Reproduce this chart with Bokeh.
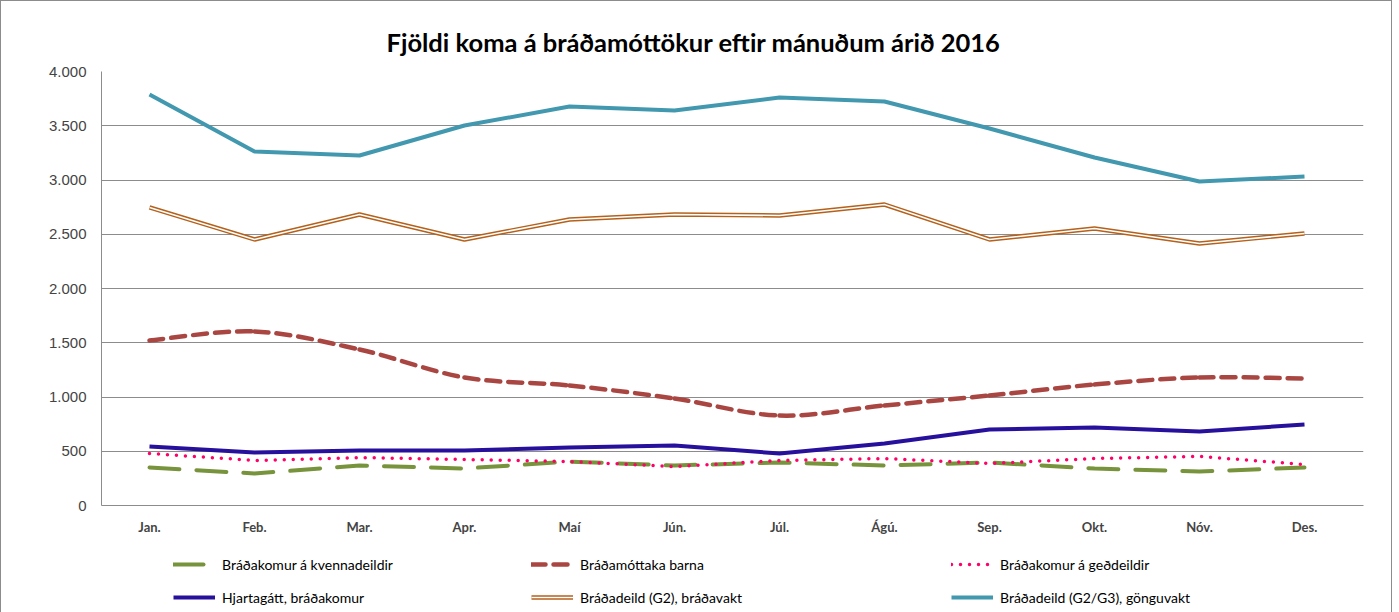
from bokeh.plotting import figure
from bokeh.layouts import column
from bokeh.models import FixedTicker, Range1d, Legend, LegendItem, Title
from bokeh.embed import file_html
from bokeh.resources import INLINE

months = ["Jan.", "Feb.", "Mar.", "Apr.", "Maí", "Jún.", "Júl.", "Ágú.", "Sep.", "Okt.", "Nóv.", "Des."]
kvenna = [350, 295, 369, 341, 405, 369, 396, 369, 396, 341, 313, 350]
barna = [1521, 1604, 1438, 1180, 1106, 986, 829, 922, 1014, 1115, 1180, 1171]
gedd = [479, 415, 442, 424, 405, 359, 415, 433, 387, 433, 452, 378]
hjarta = [544, 488, 507, 507, 535, 553, 479, 571, 700, 719, 682, 747]
g2 = [2747, 2452, 2682, 2452, 2636, 2682, 2673, 2774, 2452, 2553, 2415, 2507]
g2g3 = [3788, 3263, 3226, 3502, 3677, 3641, 3760, 3724, 3475, 3207, 2986, 3032]
series_names = ["Bráðakomur á kvennadeildir", "Bráðamóttaka barna", "Bráðakomur á geðdeildir",
                "Hjartagátt, bráðakomur", "Bráðadeild (G2), bráðavakt", "Bráðadeild (G2/G3), gönguvakt"]
y_ticks = [0, 500, 1000, 1500, 2000, 2500, 3000, 3500, 4000]
y_tick_labels = ["0", "500", "1.000", "1.500", "2.000", "2.500", "3.000", "3.500", "4.000"]

xs = list(range(len(months)))

STY = {
    "green": dict(line_color="#77933C", line_width=4, line_dash="30 17", line_cap="round"),
    "red": dict(line_color="#AA4642", line_width=4.5, line_dash="14 8", line_cap="round"),
    "pink": dict(line_color="#FF0066", line_width=3.5, line_dash="0 9", line_cap="round"),
    "navy": dict(line_color="#26109C", line_width=4),
    "brown_o": dict(line_color="#B4611C", line_width=4.5),
    "brown_i": dict(line_color="#FFFFFF", line_width=1.6),
    "teal": dict(line_color="#4198AF", line_width=4),
}

p = figure(width=1390, height=548, output_backend="svg", toolbar_location=None,
           x_range=Range1d(-0.457, len(months) - 0.438), y_range=Range1d(0, 4000),
           min_border_left=100, min_border_right=28, min_border_top=70, min_border_bottom=44)
p.outline_line_color = None

p.title = Title(text="Fjöldi koma á bráðamóttökur eftir mánuðum árið 2016", align="left", offset=285,
                text_font="Lato", text_font_size="25.5px", text_font_style="bold", text_color="#000000",
                standoff=29)

# axes
p.xaxis.ticker = FixedTicker(ticks=xs)
p.xaxis.major_label_overrides = {i: m for i, m in enumerate(months)}
p.xaxis.major_label_text_font = "Lato"
p.xaxis.major_label_text_font_style = "bold"
p.xaxis.major_label_text_font_size = "13px"
p.xaxis.major_label_standoff = 13
p.xaxis.major_tick_out = 0
p.xaxis.major_tick_in = 0
p.xaxis.major_tick_line_color = None
p.xaxis.minor_tick_line_color = None
p.xaxis.axis_line_color = "#8c8c8c"

p.yaxis.ticker = FixedTicker(ticks=y_ticks)
p.yaxis.major_label_overrides = {t: l for t, l in zip(y_ticks, y_tick_labels)}
p.yaxis.major_label_text_font = "Liberation Sans"
p.yaxis.major_label_text_font_size = "15px"
p.yaxis.major_label_standoff = 15
p.yaxis.major_tick_out = 0
p.yaxis.major_tick_in = 0
p.yaxis.major_tick_line_color = None
p.yaxis.minor_tick_line_color = None
p.yaxis.axis_line_color = "#8c8c8c"

p.xgrid.grid_line_color = None
p.ygrid.grid_line_color = "#8c8c8c"
p.ygrid.grid_line_width = 1

# series
p.line(xs, kvenna, **STY["green"])

# smoothed dashed series via bezier (Catmull-Rom control points)
n = len(barna)
x0, y0, x1, y1, cx0, cy0, cx1, cy1 = [], [], [], [], [], [], [], []
for i in range(n - 1):
    pm = i - 1 if i > 0 else i
    pp = i + 2 if i + 2 < n else i + 1
    x0.append(xs[i]); y0.append(barna[i])
    x1.append(xs[i + 1]); y1.append(barna[i + 1])
    cx0.append(xs[i] + (xs[i + 1] - xs[pm]) / 6.0)
    cy0.append(barna[i] + (barna[i + 1] - barna[pm]) / 6.0)
    cx1.append(xs[i + 1] - (xs[pp] - xs[i]) / 6.0)
    cy1.append(barna[i + 1] - (barna[pp] - barna[i]) / 6.0)
p.bezier(x0=x0, y0=y0, x1=x1, y1=y1, cx0=cx0, cy0=cy0, cx1=cx1, cy1=cy1, **STY["red"])

p.line(xs, gedd, **STY["pink"])
p.line(xs, hjarta, **STY["navy"])
p.line(xs, g2, **STY["brown_o"])
p.line(xs, g2, **STY["brown_i"])
p.line(xs, g2g3, **STY["teal"])

# legend strip below the chart
pl = figure(width=1390, height=64, output_backend="svg", toolbar_location=None,
            x_range=Range1d(0, 1), y_range=Range1d(0, 1), min_border=0)
pl.axis.visible = False
pl.grid.grid_line_color = None
pl.outline_line_color = None

nan = float("nan")
lr = {k: pl.line([nan], [nan], **v) for k, v in STY.items()}
groups = [
    ([series_names[0], series_names[3]], [[lr["green"]], [lr["navy"]]], 72),
    ([series_names[1], series_names[4]], [[lr["red"]], [lr["brown_o"], lr["brown_i"]]], 430),
    ([series_names[2], series_names[5]], [[lr["pink"]], [lr["teal"]]], 850),
]
for labels, rends, xloc in groups:
    lg = Legend(items=[LegendItem(label=l, renderers=r) for l, r in zip(labels, rends)],
                location=(xloc, 6), orientation="vertical",
                glyph_width=42, glyph_height=20, label_height=20, spacing=13,
                label_standoff=7, padding=0, margin=0, border_line_color=None,
                background_fill_alpha=0, label_text_font="Lato", label_text_font_size="14px",
                label_text_color="#000000")
    pl.add_layout(lg, "center")

layout = column(p, pl, spacing=0)
layout.styles = {"border": "1px solid #8c8c8c"}
open("out.html", "w").write(file_html(layout, INLINE))
